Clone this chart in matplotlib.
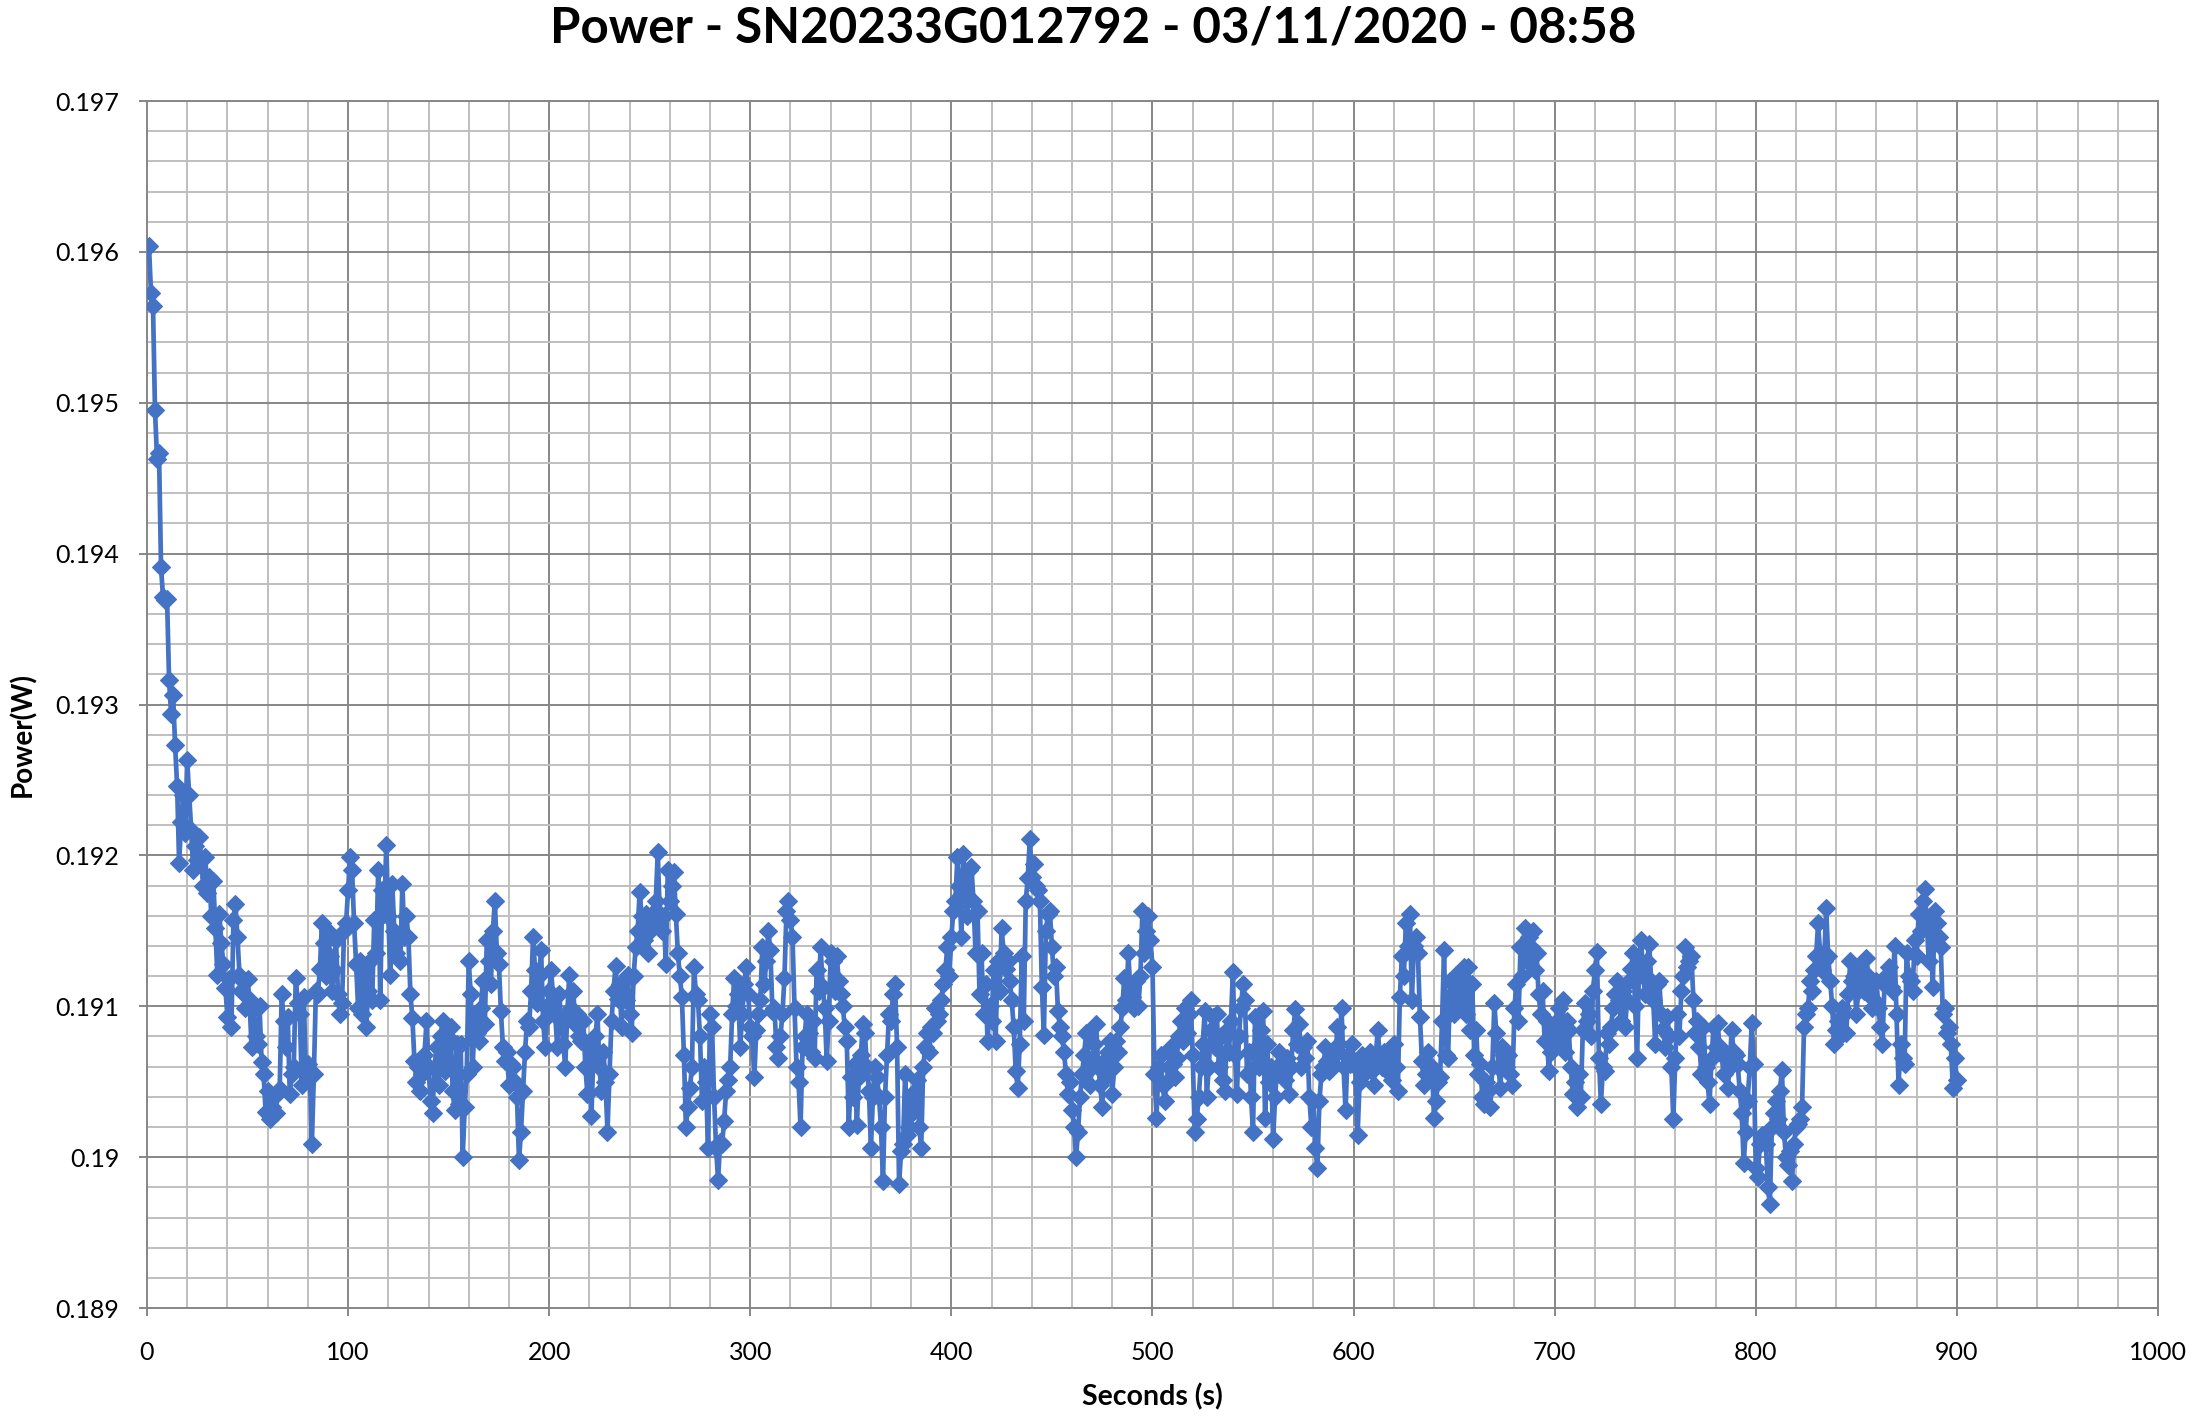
import numpy as np
import matplotlib
matplotlib.use("Agg")
import matplotlib.pyplot as plt
from matplotlib.ticker import MultipleLocator, FuncFormatter

# Power readings (W), one sample per second in 100 s blocks
power_001_100 = [
    0.19604, 0.19573, 0.19564, 0.19495, 0.19463, 0.19467, 0.19391, 0.19371, 0.19369, 0.19370,
    0.19316, 0.19294, 0.19306, 0.19273, 0.19246, 0.19195, 0.19222, 0.19240, 0.19215, 0.19263,
    0.19240, 0.19217, 0.19190, 0.19206, 0.19197, 0.19212, 0.19197, 0.19180, 0.19199, 0.19175,
    0.19186, 0.19160, 0.19183, 0.19152, 0.19121, 0.19161, 0.19142, 0.19128, 0.19112, 0.19093,
    0.19118, 0.19086, 0.19157, 0.19168, 0.19146, 0.19121, 0.19110, 0.19117, 0.19099, 0.19118,
    0.19104, 0.19073, 0.19099, 0.19080, 0.19075, 0.19100, 0.19063, 0.19055, 0.19030, 0.19044,
    0.19025, 0.19033, 0.19040, 0.19029, 0.19044, 0.19045, 0.19108, 0.19090, 0.19073, 0.19093,
    0.19042, 0.19055, 0.19060, 0.19119, 0.19102, 0.19095, 0.19048, 0.19106, 0.19057, 0.19062,
    0.19055, 0.19009, 0.19055, 0.19110, 0.19108, 0.19125, 0.19155, 0.19142, 0.19120, 0.19150,
    0.19133, 0.19110, 0.19124, 0.19144, 0.19108, 0.19095, 0.19102, 0.19150, 0.19155, 0.19177,
]
power_101_200 = [
    0.19199, 0.19190, 0.19155, 0.19128, 0.19099, 0.19130, 0.19095, 0.19124, 0.19086, 0.19110,
    0.19130, 0.19104, 0.19157, 0.19135, 0.19190, 0.19104, 0.19177, 0.19161, 0.19207, 0.19160,
    0.19121, 0.19181, 0.19150, 0.19135, 0.19144, 0.19130, 0.19181, 0.19146, 0.19160, 0.19146,
    0.19108, 0.19092, 0.19064, 0.19050, 0.19060, 0.19044, 0.19055, 0.19068, 0.19090, 0.19060,
    0.19037, 0.19029, 0.19060, 0.19073, 0.19048, 0.19080, 0.19090, 0.19057, 0.19080, 0.19062,
    0.19086, 0.19044, 0.19031, 0.19075, 0.19035, 0.19075, 0.19000, 0.19033, 0.19055, 0.19130,
    0.19108, 0.19060, 0.19095, 0.19082, 0.19077, 0.19099, 0.19117, 0.19088, 0.19144, 0.19130,
    0.19115, 0.19150, 0.19170, 0.19135, 0.19128, 0.19097, 0.19073, 0.19064, 0.19070, 0.19048,
    0.19062, 0.19060, 0.19050, 0.19040, 0.18998, 0.19017, 0.19044, 0.19070, 0.19090, 0.19086,
    0.19110, 0.19146, 0.19124, 0.19102, 0.19120, 0.19137, 0.19090, 0.19073, 0.19099, 0.19110,
]
power_201_300 = [
    0.19124, 0.19104, 0.19095, 0.19073, 0.19108, 0.19090, 0.19075, 0.19060, 0.19095, 0.19121,
    0.19099, 0.19110, 0.19088, 0.19095, 0.19080, 0.19077, 0.19090, 0.19060, 0.19042, 0.19073,
    0.19027, 0.19068, 0.19080, 0.19095, 0.19060, 0.19044, 0.19070, 0.19050, 0.19017, 0.19055,
    0.19090, 0.19110, 0.19127, 0.19105, 0.19115, 0.19086, 0.19117, 0.19104, 0.19121, 0.19095,
    0.19082, 0.19120, 0.19139, 0.19150, 0.19176, 0.19160, 0.19144, 0.19161, 0.19135, 0.19150,
    0.19161, 0.19155, 0.19170, 0.19202, 0.19161, 0.19150, 0.19160, 0.19128, 0.19190, 0.19170,
    0.19180, 0.19189, 0.19161, 0.19135, 0.19120, 0.19106, 0.19068, 0.19020, 0.19033, 0.19046,
    0.19060, 0.19126, 0.19108, 0.19104, 0.19080, 0.19037, 0.19060, 0.19050, 0.19006, 0.19095,
    0.19086, 0.19040, 0.19006, 0.18985, 0.19010, 0.19009, 0.19024, 0.19044, 0.19051, 0.19060,
    0.19095, 0.19119, 0.19100, 0.19108, 0.19073, 0.19095, 0.19115, 0.19126, 0.19108, 0.19086,
]
power_301_400 = [
    0.19080, 0.19053, 0.19084, 0.19095, 0.19104, 0.19139, 0.19115, 0.19130, 0.19150, 0.19137,
    0.19097, 0.19099, 0.19073, 0.19066, 0.19080, 0.19095, 0.19119, 0.19163, 0.19170, 0.19157,
    0.19146, 0.19099, 0.19060, 0.19050, 0.19020, 0.19073, 0.19080, 0.19095, 0.19082, 0.19070,
    0.19090, 0.19066, 0.19124, 0.19110, 0.19139, 0.19113, 0.19099, 0.19064, 0.19090, 0.19135,
    0.19130, 0.19110, 0.19133, 0.19117, 0.19108, 0.19100, 0.19086, 0.19077, 0.19020, 0.19053,
    0.19040, 0.19062, 0.19021, 0.19053, 0.19068, 0.19088, 0.19082, 0.19060, 0.19044, 0.19006,
    0.19040, 0.19060, 0.19053, 0.19040, 0.19020, 0.18984, 0.19040, 0.19068, 0.19095, 0.19090,
    0.19108, 0.19115, 0.19073, 0.18982, 0.19004, 0.19009, 0.19055, 0.19015, 0.19020, 0.19040,
    0.19030, 0.19044, 0.19051, 0.19020, 0.19006, 0.19060, 0.19073, 0.19082, 0.19070, 0.19086,
    0.19082, 0.19099, 0.19090, 0.19095, 0.19104, 0.19115, 0.19124, 0.19139, 0.19120, 0.19146,
]
power_401_500 = [
    0.19163, 0.19170, 0.19199, 0.19180, 0.19146, 0.19201, 0.19177, 0.19160, 0.19190, 0.19192,
    0.19170, 0.19135, 0.19163, 0.19108, 0.19135, 0.19095, 0.19115, 0.19077, 0.19100, 0.19090,
    0.19124, 0.19077, 0.19130, 0.19110, 0.19152, 0.19135, 0.19125, 0.19130, 0.19117, 0.19104,
    0.19086, 0.19057, 0.19046, 0.19075, 0.19133, 0.19090, 0.19170, 0.19185, 0.19211, 0.19186,
    0.19194, 0.19180, 0.19177, 0.19170, 0.19113, 0.19081, 0.19150, 0.19161, 0.19163, 0.19139,
    0.19120, 0.19126, 0.19097, 0.19086, 0.19080, 0.19070, 0.19055, 0.19042, 0.19050, 0.19031,
    0.19020, 0.19000, 0.19017, 0.19040, 0.19055, 0.19068, 0.19082, 0.19066, 0.19048, 0.19060,
    0.19075, 0.19088, 0.19060, 0.19048, 0.19033, 0.19064, 0.19053, 0.19070, 0.19077, 0.19042,
    0.19060, 0.19077, 0.19070, 0.19086, 0.19099, 0.19119, 0.19104, 0.19135, 0.19110, 0.19106,
    0.19099, 0.19117, 0.19100, 0.19120, 0.19163, 0.19135, 0.19150, 0.19160, 0.19144, 0.19126,
]
power_501_600 = [
    0.19055, 0.19026, 0.19060, 0.19068, 0.19048, 0.19037, 0.19050, 0.19060, 0.19073, 0.19062,
    0.19053, 0.19066, 0.19080, 0.19090, 0.19077, 0.19099, 0.19082, 0.19095, 0.19104, 0.19068,
    0.19017, 0.19025, 0.19040, 0.19060, 0.19075, 0.19097, 0.19040, 0.19060, 0.19084, 0.19093,
    0.19073, 0.19095, 0.19060, 0.19080, 0.19051, 0.19044, 0.19084, 0.19070, 0.19090, 0.19123,
    0.19068, 0.19042, 0.19080, 0.19099, 0.19115, 0.19104, 0.19055, 0.19070, 0.19040, 0.19017,
    0.19093, 0.19073, 0.19060, 0.19084, 0.19097, 0.19026, 0.19075, 0.19050, 0.19060, 0.19012,
    0.19040, 0.19060, 0.19070, 0.19055, 0.19062, 0.19051, 0.19066, 0.19042, 0.19060, 0.19084,
    0.19098, 0.19075, 0.19088, 0.19060, 0.19073, 0.19066, 0.19077, 0.19040, 0.19020, 0.19037,
    0.19006, 0.18993, 0.19037, 0.19055, 0.19060, 0.19073, 0.19064, 0.19057, 0.19070, 0.19062,
    0.19068, 0.19086, 0.19075, 0.19099, 0.19060, 0.19031, 0.19068, 0.19062, 0.19075, 0.19064,
]
power_601_700 = [
    0.19060, 0.19015, 0.19050, 0.19068, 0.19055, 0.19062, 0.19060, 0.19070, 0.19057, 0.19048,
    0.19066, 0.19084, 0.19068, 0.19060, 0.19070, 0.19064, 0.19062, 0.19055, 0.19051, 0.19075,
    0.19060, 0.19044, 0.19106, 0.19133, 0.19120, 0.19155, 0.19140, 0.19161, 0.19104, 0.19140,
    0.19146, 0.19135, 0.19093, 0.19064, 0.19048, 0.19055, 0.19070, 0.19055, 0.19060, 0.19026,
    0.19037, 0.19050, 0.19053, 0.19090, 0.19137, 0.19068, 0.19066, 0.19117, 0.19108, 0.19095,
    0.19121, 0.19110, 0.19100, 0.19115, 0.19126, 0.19095, 0.19126, 0.19084, 0.19115, 0.19068,
    0.19084, 0.19055, 0.19062, 0.19040, 0.19035, 0.19050, 0.19044, 0.19033, 0.19060, 0.19102,
    0.19082, 0.19060, 0.19046, 0.19073, 0.19068, 0.19060, 0.19068, 0.19055, 0.19048, 0.19099,
    0.19115, 0.19090, 0.19139, 0.19120, 0.19152, 0.19130, 0.19146, 0.19139, 0.19150, 0.19124,
    0.19135, 0.19108, 0.19095, 0.19110, 0.19077, 0.19090, 0.19057, 0.19070, 0.19082, 0.19075,
]
power_701_800 = [
    0.19090, 0.19099, 0.19080, 0.19104, 0.19070, 0.19090, 0.19084, 0.19060, 0.19042, 0.19050,
    0.19033, 0.19055, 0.19040, 0.19084, 0.19102, 0.19090, 0.19095, 0.19080, 0.19110, 0.19124,
    0.19136, 0.19066, 0.19035, 0.19060, 0.19057, 0.19082, 0.19075, 0.19086, 0.19099, 0.19108,
    0.19117, 0.19104, 0.19090, 0.19110, 0.19086, 0.19104, 0.19117, 0.19125, 0.19135, 0.19100,
    0.19066, 0.19130, 0.19144, 0.19120, 0.19108, 0.19130, 0.19141, 0.19117, 0.19104, 0.19075,
    0.19115, 0.19117, 0.19095, 0.19085, 0.19073, 0.19093, 0.19080, 0.19060, 0.19025, 0.19066,
    0.19095, 0.19080, 0.19110, 0.19120, 0.19139, 0.19126, 0.19130, 0.19133, 0.19104, 0.19082,
    0.19090, 0.19073, 0.19055, 0.19086, 0.19060, 0.19050, 0.19035, 0.19066, 0.19086, 0.19073,
    0.19089, 0.19073, 0.19068, 0.19055, 0.19068, 0.19046, 0.19060, 0.19084, 0.19070, 0.19068,
    0.19062, 0.19044, 0.19029, 0.18996, 0.19017, 0.19037, 0.19060, 0.19089, 0.19062, 0.18993,
]
power_801_900 = [
    0.18987, 0.19009, 0.19015, 0.19015, 0.19009, 0.18980, 0.18969, 0.19020, 0.19029, 0.19037,
    0.19025, 0.19044, 0.19058, 0.19017, 0.19000, 0.18995, 0.19004, 0.18984, 0.19009, 0.19020,
    0.19022, 0.19025, 0.19033, 0.19086, 0.19095, 0.19099, 0.19117, 0.19110, 0.19124, 0.19133,
    0.19155, 0.19135, 0.19124, 0.19130, 0.19165, 0.19133, 0.19117, 0.19100, 0.19075, 0.19084,
    0.19090, 0.19080, 0.19099, 0.19095, 0.19082, 0.19108, 0.19130, 0.19117, 0.19120, 0.19095,
    0.19110, 0.19124, 0.19115, 0.19110, 0.19132, 0.19120, 0.19113, 0.19099, 0.19104, 0.19117,
    0.19099, 0.19086, 0.19075, 0.19115, 0.19120, 0.19126, 0.19113, 0.19110, 0.19140, 0.19095,
    0.19048, 0.19075, 0.19066, 0.19062, 0.19135, 0.19120, 0.19117, 0.19110, 0.19144, 0.19133,
    0.19161, 0.19150, 0.19170, 0.19178, 0.19157, 0.19130, 0.19150, 0.19113, 0.19163, 0.19155,
    0.19146, 0.19139, 0.19095, 0.19099, 0.19082, 0.19086, 0.19075, 0.19046, 0.19066, 0.19051,
]

first_second = 1
title = "Power - SN20233G012792 - 03/11/2020 - 08:58"
x_label = "Seconds (s)"
y_label = "Power(W)"

power = (power_001_100 + power_101_200 + power_201_300 + power_301_400 + power_401_500
         + power_501_600 + power_601_700 + power_701_800 + power_801_900)
seconds = np.arange(first_second, first_second + len(power))

plt.rcParams['font.family'] = ['Lato', 'DejaVu Sans']

fig = plt.figure(figsize=(22, 14.17), dpi=100)
ax = fig.add_axes([0.0668, 0.0769, 0.9141, 0.8518])

ax.plot(seconds, power, color='#4472C4', linewidth=3.4, marker='D',
        markersize=9, markeredgewidth=0.8, markeredgecolor='#4472C4', zorder=3)

ax.set_xlim(0, 1000)
ax.set_ylim(0.189, 0.197)
ax.xaxis.set_major_locator(MultipleLocator(100))
ax.xaxis.set_minor_locator(MultipleLocator(20))
ax.yaxis.set_major_locator(MultipleLocator(0.001))
ax.yaxis.set_minor_locator(MultipleLocator(0.0002))


def excel_general(v, pos):
    # Excel "General" format: 0.190 -> 0.19
    return ('%.3f' % v).rstrip('0')


ax.yaxis.set_major_formatter(FuncFormatter(excel_general))

ax.set_axisbelow(True)
ax.grid(which='minor', color='#bfbfbf', linewidth=1.4)
ax.grid(which='major', color='#878787', linewidth=1.4)
for side in ['left', 'bottom', 'top', 'right']:
    ax.spines[side].set_color('#878787')
    ax.spines[side].set_linewidth(1.4)

ax.tick_params(which='major', length=6, width=1.4, color='#878787', labelsize=18)
ax.tick_params(axis='x', which='major', pad=18)
ax.tick_params(axis='y', which='major', pad=14)
ax.tick_params(which='minor', length=0)

ax.set_xlabel(x_label, fontsize=20.5, fontweight='bold', labelpad=14)
fig.text(0.0105, 0.482, y_label, rotation=90, ha='center', va='center',
         fontsize=20, fontweight='bold')
fig.text(0.497, 0.980, title, ha='center', va='center', fontsize=35.5, fontweight='bold')

fig.savefig('out.png', dpi=100)
